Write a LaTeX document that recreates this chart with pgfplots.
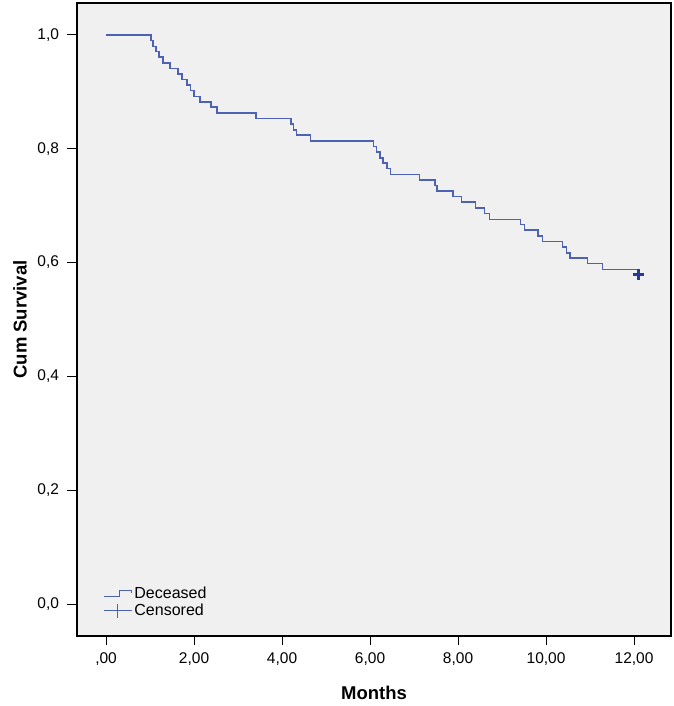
\documentclass[border=0pt]{standalone}
\usepackage{fontspec}
\setmainfont{Liberation Sans}
\usepackage{pgfplots}
\pgfplotsset{compat=1.18}
\definecolor{bgc}{RGB}{240,240,240}
\definecolor{kmblue}{RGB}{78,98,180}
\definecolor{cens}{RGB}{38,58,150}
\begin{document}
\begin{tikzpicture}
\useasboundingbox (-77pt,-70pt) rectangle (596pt,636pt);
\begin{axis}[
  at={(0,0)}, anchor=south west,
  scale only axis, width=594pt, height=633pt,
  xmin=-0.66, xmax=12.84, ymin=-0.056, ymax=1.056,
  axis background/.style={fill=bgc},
  axis line style={line width=1.1pt, black},
  tick pos=left, tick align=outside, major tick length=9.5pt,
  every tick/.style={black, line width=1pt},
  xtick={0,2,4,6,8,10,12},
  xticklabels={{,00},{2,00},{4,00},{6,00},{8,00},{10,00},{12,00}},
  ytick={0,0.2,0.4,0.6,0.8,1.0},
  yticklabels={{0,0},{0,2},{0,4},{0,6},{0,8},{1,0}},
  ticklabel style={font=\fontsize{15.5}{18}\selectfont},
  xticklabel style={yshift=-4pt},
  yticklabel style={xshift=-5pt},
  xlabel={Months}, ylabel={Cum Survival},
  label style={font=\fontsize{18.5}{22}\selectfont\bfseries},
  xlabel style={at={(axis description cs:0.5,-0.090)}, anchor=center},
  ylabel style={at={(axis description cs:-0.096,0.5)}, anchor=center},
  legend style={at={(rel axis cs:0.044,0.081)}, anchor=north west, draw=none, fill=none,
    font=\fontsize{16}{18}\selectfont, row sep=0pt, inner sep=0pt, cells={anchor=west}},
]
\addplot[const plot, kmblue, line width=1.5pt,
  legend image code/.code={\draw[kmblue,line width=1.1pt] (0pt,-3.3pt) -- (16pt,-3.3pt) -- (16pt,3.3pt) -- (28pt,3.3pt) -- (28pt,0.7pt);}]
coordinates {
(0,1.000)
(1.02,0.990)
(1.07,0.980)
(1.13,0.971)
(1.20,0.961)
(1.30,0.951)
(1.45,0.941)
(1.63,0.931)
(1.73,0.922)
(1.84,0.912)
(1.92,0.902)
(2.00,0.892)
(2.14,0.882)
(2.38,0.873)
(2.52,0.863)
(3.41,0.853)
(4.20,0.843)
(4.26,0.833)
(4.33,0.824)
(4.65,0.814)
(6.08,0.804)
(6.15,0.794)
(6.23,0.784)
(6.30,0.775)
(6.38,0.765)
(6.46,0.755)
(7.12,0.745)
(7.48,0.735)
(7.52,0.726)
(7.89,0.716)
(8.08,0.706)
(8.40,0.696)
(8.60,0.686)
(8.72,0.676)
(9.42,0.667)
(9.51,0.657)
(9.82,0.647)
(9.92,0.637)
(10.37,0.627)
(10.46,0.617)
(10.55,0.608)
(10.94,0.598)
(11.28,0.588)
(12.10,0.579)
};
\addlegendentry{Deceased}
\addplot[only marks, mark=+, mark size=5.5pt, cens, line width=2.2pt,
  legend image code/.code={\draw[kmblue,line width=1.1pt] (0pt,0pt) -- (28pt,0pt); \draw[kmblue,line width=1.1pt] (14pt,-7pt) -- (14pt,7pt);}]
coordinates {(12.10,0.579)};
\addlegendentry{Censored}
\end{axis}
\end{tikzpicture}
\end{document}
